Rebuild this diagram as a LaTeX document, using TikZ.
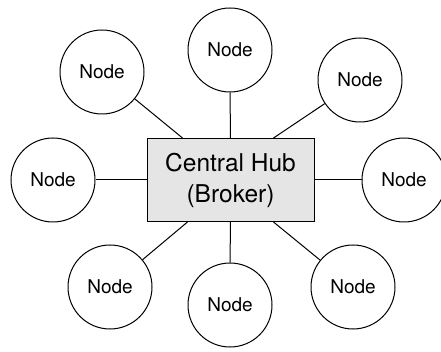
\documentclass[tikz,border=0pt]{standalone}
\usepackage{fontspec}
\setmainfont{TeX Gyre Heros}
\usepackage{tikz}

\tikzset{
  hubbox/.style={draw, line width=1pt, fill=black!10, minimum width=167pt,
    minimum height=83pt, align=center, font=\fontsize{24.5}{31}\selectfont},
  peer/.style={draw, circle, line width=1pt, minimum size=84pt, inner sep=0pt,
    font=\fontsize{19}{22}\selectfont},
  link/.style={line width=1pt}
}

\begin{document}
\begin{tikzpicture}[x=1pt,y=-1pt]
            \useasboundingbox (0,0) rectangle (441,352);
            \node[hubbox] (hub) at (230.5,180) {Central Hub\\(Broker)};
            % peers placed around the hub
            \foreach \n/\x/\y in {n1/230/50, n2/102/72, n3/360/80, n4/53/180,
                                  n5/404/180, n6/110/287, n7/230/305, n8/353/287} {
                \node[peer] (\n) at (\x,\y) {Node};
            }
            % straight spokes
            \foreach \n in {n1,n4,n5,n7} {
                \draw[link] (\n) -- (hub);
            }
            % slanted spokes meet the top and bottom edges
            \foreach \n/\a/\s in {n2/north/-48, n3/north/43, n6/south/-43, n8/south/43} {
                \draw[link] (\n) -- ([xshift=\s pt]hub.\a);
            }
        \end{tikzpicture}
\end{document}
